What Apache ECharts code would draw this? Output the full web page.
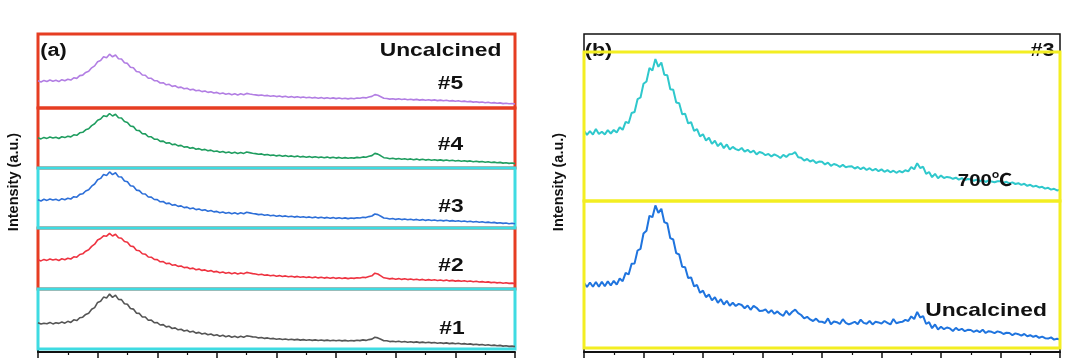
<!DOCTYPE html>
<html>
<head>
<meta charset="utf-8">
<script src="https://cdn.jsdelivr.net/npm/echarts/dist/echarts.min.js"></script>
<style>
html,body{margin:0;padding:0;background:#fff;}
#chart{width:1080px;height:361px;}
</style>
</head>
<body>
<div id="chart"></div>
<script>
// 2θ sampling (degrees)
const twoTheta = [
10,10.5,11,11.5,12,12.5,13,13.5,14,14.5,
15,15.5,16,16.5,17,17.5,18,18.5,19,19.5,
20,20.5,21,21.5,22,22.5,23,23.5,24,24.5,
25,25.5,26,26.5,27,27.5,28,28.5,29,29.5,
30,30.5,31,31.5,32,32.5,33,33.5,34,34.5,
35,35.5,36,36.5,37,37.5,38,38.5,39,39.5,
40,40.5,41,41.5,42,42.5,43,43.5,44,44.5,
45,45.5,46,46.5,47,47.5,48,48.5,49,49.5,
50,50.5,51,51.5,52,52.5,53,53.5,54,54.5,
55,55.5,56,56.5,57,57.5,58,58.5,59,59.5,
60,60.5,61,61.5,62,62.5,63,63.5,64,64.5,
65,65.5,66,66.5,67,67.5,68,68.5,69,69.5,
70,70.5,71,71.5,72,72.5,73,73.5,74,74.5,
75,75.5,76,76.5,77,77.5,78,78.5,79,79.5,
80,80.5,81,81.5,82,82.5,83,83.5,84,84.5,
85,85.5,86,86.5,87,87.5,88,88.5,89,89.5,
90];

// (a) Uncalcined samples
const sample1 = [
262,249,258,253,266,251,263,256,270,258,
277,266,292,284,313,318,346,358,397,414,
466,478,519,511,549,516,538,496,494,453,
447,405,399,359,356,321,320,288,289,263,
264,240,244,221,227,205,211,192,198,180,
187,169,177,159,166,150,158,142,150,135,
142,128,137,123,132,118,128,116,127,117,
131,127,121,120,111,115,106,111,102,106,
98,103,95,100,93,98,91,96,89,94,
87,92,86,91,85,90,84,89,83,88,
82,87,81,86,80,85,81,87,84,91,
86,94,99,117,111,98,82,82,74,78,
72,77,70,75,68,73,66,71,64,69,
62,67,61,65,58,63,56,61,54,59,
52,57,50,54,47,51,44,48,41,45,
38,42,35,39,32,36,29,33,26,29,
25];
const sample2 = [
292,281,296,286,300,289,297,285,302,293,
308,300,322,318,345,352,378,392,426,448,
490,505,532,528,556,530,548,512,508,475,
468,430,424,388,382,352,348,320,318,296,
294,272,274,254,258,238,243,226,230,214,
218,203,209,193,199,186,191,178,184,171,
176,163,170,158,165,153,162,151,160,152,
166,160,154,150,143,147,137,141,132,137,
128,134,125,131,122,128,119,126,117,123,
115,121,113,119,111,117,109,116,108,114,
106,113,105,111,104,110,106,113,110,118,
114,124,132,158,150,131,112,108,101,106,
98,104,96,102,94,100,92,98,90,96,
88,94,87,92,85,90,83,89,81,86,
79,84,77,82,75,80,72,77,70,74,
67,71,64,68,61,65,58,62,56,59,
55];
const sample3 = [
283,270,287,276,290,279,288,274,293,283,
298,290,313,308,336,342,370,383,418,440,
482,496,535,526,561,534,552,513,510,470,
462,423,417,379,374,342,340,310,309,285,
284,262,265,244,249,228,234,216,221,204,
209,193,200,184,190,176,182,168,175,161,
166,153,161,148,156,143,153,141,152,143,
157,151,145,141,134,138,128,132,123,127,
118,124,115,121,112,118,109,116,107,113,
105,111,103,109,101,107,99,106,98,104,
96,103,95,101,94,100,96,103,100,108,
104,114,120,140,134,118,100,97,90,95,
86,92,84,90,82,88,80,86,78,84,
76,82,75,80,73,78,71,77,69,74,
67,72,65,70,63,68,60,65,58,62,
55,59,52,56,49,53,46,50,43,47,
42];
const sample4 = [
302,291,306,296,310,299,308,295,313,304,
318,311,332,327,352,357,382,393,424,442,
478,490,522,514,545,520,538,502,500,464,
456,420,414,378,374,343,341,312,312,289,
288,266,269,249,253,233,239,221,226,209,
213,198,204,188,194,180,186,172,179,165,
170,157,165,152,160,147,157,145,155,146,
160,154,148,144,137,141,131,135,126,130,
121,127,118,124,115,121,112,119,110,116,
108,114,106,112,104,110,102,109,101,107,
99,106,98,104,97,103,99,106,103,111,
107,117,124,146,139,122,103,100,93,98,
89,95,87,93,85,91,83,89,81,87,
79,85,78,83,76,81,74,80,72,77,
70,75,68,73,66,71,63,68,61,65,
58,62,55,59,52,56,49,53,46,50,
44];
const sample5 = [
272,260,276,265,280,268,277,264,283,272,
288,279,302,296,324,329,356,368,402,421,
462,474,512,503,538,512,530,492,490,452,
446,408,402,365,360,330,328,298,297,273,
272,250,253,232,237,216,222,204,209,192,
197,181,188,172,178,164,170,156,163,150,
156,143,151,138,146,133,143,131,142,133,
146,140,135,131,126,130,122,126,118,122,
114,120,111,117,108,114,106,112,104,110,
102,108,100,106,98,104,96,103,95,101,
94,100,92,98,91,97,93,100,97,105,
101,110,116,134,128,113,97,95,89,93,
86,92,85,90,83,88,81,86,79,84,
78,83,76,81,74,79,72,77,70,74,
68,72,65,69,62,66,59,63,56,60,
53,57,50,54,47,51,44,48,42,45,
40];

// (b) sample #3: 700 °C and uncalcined
const s3Calcined700 = [
702,661,698,664,719,670,693,666,708,675,
710,684,738,712,792,778,880,890,1018,1035,
1172,1195,1330,1305,1420,1342,1385,1262,1258,1118,
1112,985,978,868,872,776,788,702,718,646,
668,604,632,571,602,548,581,528,566,515,
541,519,508,530,494,512,485,503,466,490,
480,458,471,446,466,452,430,461,441,468,
470,488,438,432,404,420,395,409,380,394,
392,366,384,352,370,360,342,361,338,346,
348,325,340,318,336,310,328,305,322,298,
316,292,309,287,303,282,300,286,308,296,
340,318,378,330,342,272,290,238,272,228,
254,230,241,236,222,233,214,228,209,220,
218,202,214,196,212,190,206,194,188,198,
198,182,192,176,186,170,178,161,172,152,
162,144,152,136,142,124,132,114,122,106,
112];
const s3Uncalcined = [
652,610,655,612,660,613,662,618,668,625,
672,634,695,668,752,735,842,846,975,992,
1145,1172,1322,1308,1425,1352,1392,1258,1245,1098,
1085,948,935,812,808,700,706,616,630,552,
574,508,536,476,508,452,488,434,472,422,
452,420,441,430,398,425,382,421,402,370,
372,386,351,378,342,366,338,322,372,330,
362,384,348,330,296,312,286,270,294,262,
262,250,296,238,265,258,240,288,252,236,
248,262,239,284,251,243,270,236,262,256,
244,270,252,236,290,247,258,262,281,270,
316,290,360,305,318,240,258,198,236,186,
212,188,205,196,170,201,178,192,168,182,
180,162,176,158,183,150,168,162,149,166,
158,140,152,150,128,146,138,124,140,118,
128,112,122,102,114,98,94,106,84,92,
86];

const panelALabels = ['#5','#4','#3','#2','#1'];
const panelBLabels = ['700℃','Uncalcined'];

const RED = '#e63d22', CYAN = '#3fdbe2', YEL = '#f3ee22';
const FONT = '"Liberation Sans", Arial, "Noto Sans CJK SC", sans-serif';

function pairs(arr){ return arr.map((v,i)=>[twoTheta[i], v]); }

const grids = [
  {left:38, top:34,  width:477, height:74, show:true, borderColor:RED,  borderWidth:3, z:1},
  {left:38, top:108, width:477, height:60, show:true, borderColor:RED,  borderWidth:3, z:1},
  {left:38, top:168, width:477, height:60, show:true, borderColor:CYAN, borderWidth:3, z:3},
  {left:38, top:228, width:477, height:61, show:true, borderColor:RED,  borderWidth:3, z:1},
  {left:38, top:289, width:477, height:60, show:true, borderColor:CYAN, borderWidth:3, z:3},
  {left:38, top:34,  width:477, height:318, show:false},
  {left:584, top:34, width:476, height:318, show:true, borderColor:'#111', borderWidth:1.5, z:0},
  {left:584, top:52, width:476, height:149, show:true, borderColor:YEL, borderWidth:3, z:5},
  {left:584, top:201,width:476, height:147, show:true, borderColor:YEL, borderWidth:3, z:5}
];
grids.forEach(g=>{ g.backgroundColor='transparent'; g.containLabel=false; });

const yMax = [740,600,600,610,600,100,100,1490,1470];

const xAxes = grids.map((g,i)=>{
  const showAxis = (i===5 || i===6);
  return {
    type:'value', gridIndex:i, min:10, max:90, interval:10,
    show: showAxis,
    axisLine:{show:true, onZero:false, lineStyle:{color:'#111', width:2}},
    axisTick:{show:true, inside:false, length:6, lineStyle:{color:'#111', width:1.5}},
    minorTick:{show:true, splitNumber:2, length:3, lineStyle:{color:'#111', width:1.2}},
    axisLabel:{show:false},
    splitLine:{show:false}
  };
});
const yAxes = grids.map((g,i)=>({
  type:'value', gridIndex:i, min:0, max:yMax[i],
  show: i===5,
  axisLine:{show:true, onZero:false, lineStyle:{color:'#111', width:2}},
  axisTick:{show:false}, axisLabel:{show:false}, splitLine:{show:false}
}));

function lineSeries(name, data, idx, color, width){
  return {
    name, type:'line', xAxisIndex:idx, yAxisIndex:idx,
    data: pairs(data), showSymbol:false, symbol:'none',
    lineStyle:{color, width}, itemStyle:{color},
    clip:true, z:4, animation:false
  };
}

const series = [
  lineSeries('#5', sample5, 0, '#b27ee3', 1.6),
  lineSeries('#4', sample4, 1, '#1f9d5f', 1.6),
  lineSeries('#3', sample3, 2, '#2d6fd8', 1.6),
  lineSeries('#2', sample2, 3, '#ee3340', 1.6),
  lineSeries('#1', sample1, 4, '#555555', 1.6),
  lineSeries('700℃', s3Calcined700, 7, '#2fc8cc', 2),
  lineSeries('Uncalcined', s3Uncalcined, 8, '#1f74de', 2)
];

function txt(text, x, y, size, opts){
  opts = opts || {};
  return {
    type:'text', x, y, z: opts.z != null ? opts.z : 20,
    scaleX: opts.scaleX != null ? opts.scaleX : 1.2,
    rotation: opts.rotation || 0,
    style:{
      text, fill:'#111', font:'bold ' + size + 'px ' + FONT,
      textAlign:'center', textVerticalAlign:'middle', verticalAlign:'middle'
    }
  };
}

const graphics = [
  txt('(a)', 53.5, 51, 18),
  txt('Uncalcined', 440.5, 51, 19),
  txt(panelALabels[0], 450.5, 84, 19),
  txt(panelALabels[1], 450.5, 145, 19),
  txt(panelALabels[2], 451, 207, 19),
  txt(panelALabels[3], 451, 266, 19),
  txt(panelALabels[4], 452, 329, 19),
  txt('(b)', 598.5, 51, 18, {z:2}),
  txt('#3', 1042.5, 51, 18, {z:2}),
  txt(panelBLabels[0], 985, 181, 17),
  txt(panelBLabels[1], 986, 311, 19),
  txt('Intensity (a.u.)', 13.5, 182, 14.5, {rotation:Math.PI/2, scaleX:1}),
  txt('Intensity (a.u.)', 558.5, 182, 14.5, {rotation:Math.PI/2, scaleX:1})
];

const chart = echarts.init(document.getElementById('chart'), null, {renderer:'canvas'});
chart.setOption({
  animation:false,
  backgroundColor:'#ffffff',
  grid: grids,
  xAxis: xAxes,
  yAxis: yAxes,
  series,
  graphic: graphics
});
</script>
</body>
</html>
